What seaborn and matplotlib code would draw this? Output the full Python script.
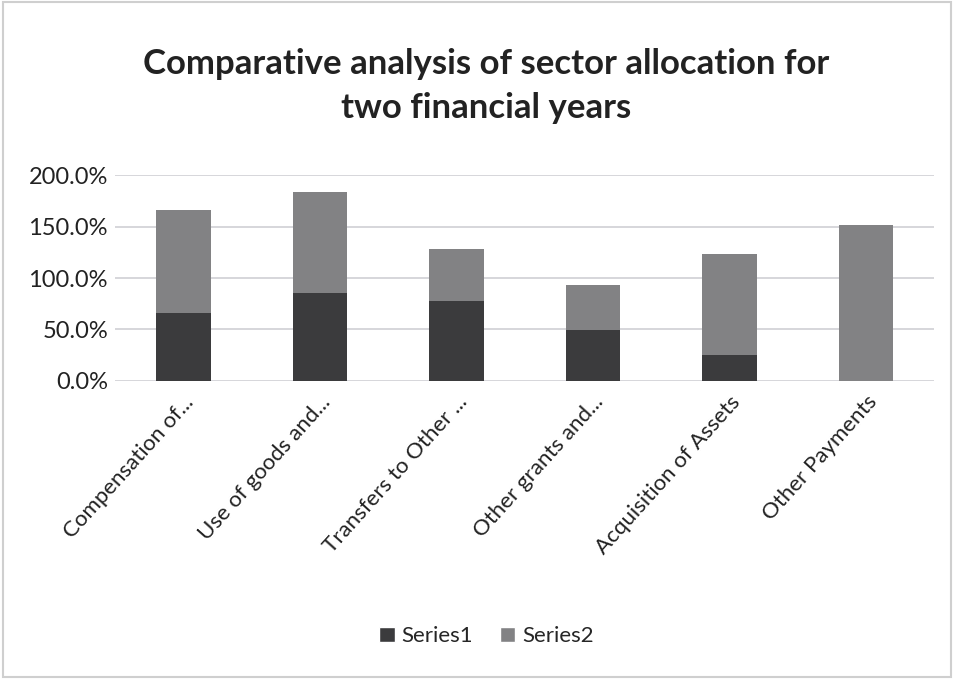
import matplotlib
matplotlib.use("Agg")
import matplotlib.pyplot as plt
import seaborn as sns
import pandas as pd
from matplotlib.ticker import FuncFormatter
from matplotlib.patches import Patch, Rectangle

categories = ["Compensation of...", "Use of goods and...", "Transfers to Other ...",
              "Other grants and...", "Acquisition of Assets", "Other Payments"]
series1 = [66.0, 85.0, 78.0, 49.5, 25.0, 0.0]
series2 = [100.5, 99.0, 50.5, 44.0, 98.5, 151.5]
yticks = [0, 50, 100, 150, 200]

sns.set_theme(style="white")
plt.rcParams['font.family'] = ['Lato', 'DejaVu Sans']

c1 = "#3b3b3d"
c2 = "#828284"

df = pd.DataFrame({"cat": categories, "s1": series1, "s2": series2})
df["total"] = df["s1"] + df["s2"]

fig = plt.figure(figsize=(9.54, 6.79), dpi=100)
ax = fig.add_axes([0.1205, 0.439, 0.859, 0.303])

sns.barplot(data=df, x="cat", y="total", color=c2, saturation=1, width=0.4, ax=ax,
            zorder=3, linewidth=0)
sns.barplot(data=df, x="cat", y="s1", color=c1, saturation=1, width=0.4, ax=ax,
            zorder=4, linewidth=0)

ax.set_ylim(0, 200)
ax.set_xlim(-0.5, len(categories) - 0.5)
ax.set_yticks(yticks)
ax.yaxis.set_major_formatter(FuncFormatter(lambda v, p: f"{v:.1f}%"))
ax.grid(axis="y", color="#d0d0d4", linewidth=1.2, zorder=0)
for s in ax.spines.values():
    s.set_visible(False)
ax.set_xlabel("")
ax.set_ylabel("")
ax.tick_params(axis="y", labelsize=17, colors="#222222", length=0, pad=5)
ax.tick_params(axis="x", labelsize=16, colors="#222222", length=0, pad=8)
plt.setp(ax.get_xticklabels(), rotation=48, ha="right", rotation_mode="anchor")

fig.text(0.51, 0.873, "Comparative analysis of sector allocation for\ntwo financial years",
         ha="center", va="center", fontsize=25, fontweight="bold", color="#222222",
         linespacing=1.45)

handles = [Patch(facecolor=c1, label="Series1"), Patch(facecolor=c2, label="Series2")]
fig.legend(handles=handles, loc="center", bbox_to_anchor=(0.51, 0.063), ncol=2,
           frameon=False, fontsize=16, handlelength=0.7, handleheight=0.7,
           handletextpad=0.3, columnspacing=1.2)

fig.patches.append(Rectangle((0.003, 0.003), 0.994, 0.994, transform=fig.transFigure,
                             fill=False, edgecolor="#cfcfcf", linewidth=1.5))

fig.savefig("out.png", dpi=100, facecolor="white")
